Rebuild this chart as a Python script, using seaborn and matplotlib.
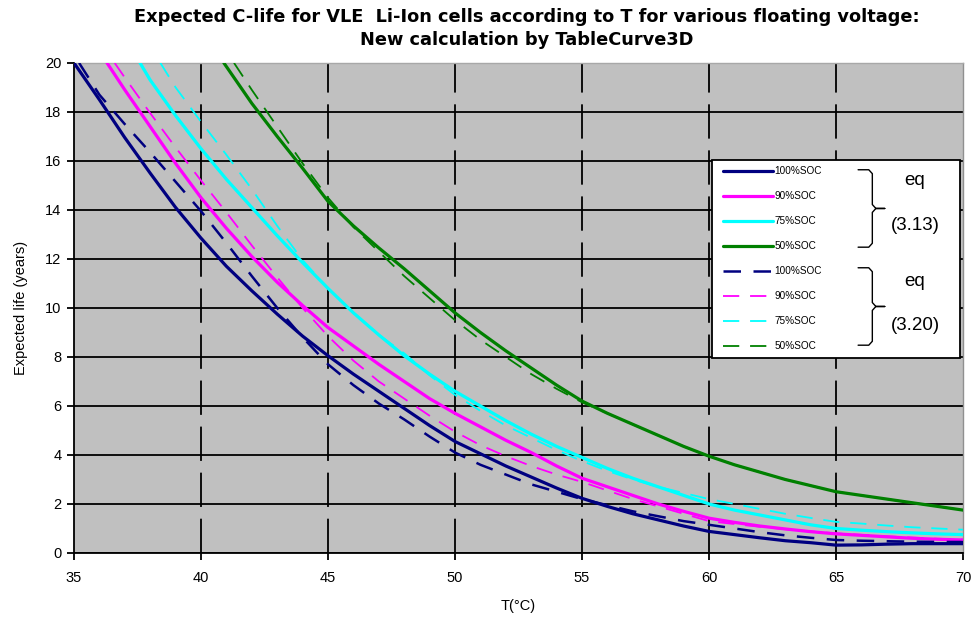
import numpy as np
import pandas as pd
import matplotlib
matplotlib.use("Agg")
import matplotlib.pyplot as plt
import seaborn as sns
from matplotlib.lines import Line2D
from matplotlib.patches import Rectangle

# ---- data (T in degC, expected life in years) ----
# eq (3.13), solid lines
t_a100 = [35, 36, 37, 38, 39, 40, 41, 42, 43, 44, 45, 46, 47, 48, 49, 50, 51, 52, 53, 54, 55,
          56, 57, 58, 59, 60, 61, 62, 63, 64, 65, 66, 67, 68, 69, 70]
y_a100 = [20.0, 18.5, 16.95, 15.5, 14.1, 12.85, 11.7, 10.7, 9.75, 8.85, 8.05, 7.3, 6.6, 5.9, 5.2, 4.55,
          4.05, 3.55, 3.1, 2.65, 2.23, 1.9, 1.6, 1.35, 1.1, 0.88, 0.75, 0.62, 0.5, 0.42, 0.32, 0.33, 0.36,
          0.38, 0.38, 0.38]
t_a90 = [36.3, 37, 38, 39, 40, 41, 42, 43, 44, 45, 46, 47, 48, 49, 50, 51, 52, 53, 54, 55,
         56, 57, 58, 59, 60, 61, 62, 63, 64, 65, 66, 67, 68, 69, 70]
y_a90 = [20.0, 18.9, 17.4, 15.9, 14.5, 13.25, 12.1, 11.05, 10.1, 9.2, 8.45, 7.7, 7.0, 6.3, 5.7, 5.15,
         4.6, 4.1, 3.55, 3.05, 2.7, 2.35, 2.0, 1.7, 1.42, 1.25, 1.1, 0.98, 0.87, 0.78, 0.72, 0.66, 0.6,
         0.56, 0.53]
t_a75 = [37.6, 38, 39, 40, 41, 42, 43, 44, 45, 46, 47, 48, 49, 50, 51, 52, 53, 54, 55,
         56, 57, 58, 59, 60, 61, 62, 63, 64, 65, 66, 67, 68, 69, 70]
y_a75 = [20.0, 19.3, 17.85, 16.5, 15.25, 14.1, 12.95, 11.85, 10.8, 9.8, 8.9, 8.05, 7.3, 6.6, 6.0, 5.4,
         4.85, 4.35, 3.9, 3.45, 3.05, 2.7, 2.35, 2.0, 1.75, 1.55, 1.35, 1.15, 1.0, 0.93, 0.87, 0.82,
         0.78, 0.75]
t_a50 = [40.9, 42, 43, 44, 45, 46, 47, 48, 49, 50, 51, 52, 53, 54, 55,
         56, 57, 58, 59, 60, 61, 62, 63, 64, 65, 66, 67, 68, 69, 70]
y_a50 = [20.0, 18.35, 17.0, 15.7, 14.35, 13.35, 12.45, 11.6, 10.7, 9.8, 9.0, 8.25, 7.55, 6.85, 6.2,
         5.7, 5.25, 4.8, 4.35, 3.95, 3.6, 3.3, 3.0, 2.75, 2.5, 2.35, 2.2, 2.05, 1.9, 1.75]

# eq (3.20), dashed lines
t_b100 = [35.2, 36, 37, 38, 39, 40, 41, 42, 43, 44, 45, 46, 47, 48, 49, 50, 51, 52, 53, 54, 55,
          56, 57, 58, 59, 60, 61, 62, 63, 64, 65, 66, 67, 68, 69, 70]
y_b100 = [20.0, 18.7, 17.5, 16.35, 15.15, 13.95, 12.65, 11.3, 10.0, 8.8, 7.7, 6.85, 6.1, 5.45, 4.75, 4.1,
          3.6, 3.2, 2.8, 2.5, 2.2, 1.95, 1.7, 1.5, 1.3, 1.15, 1.0, 0.85, 0.72, 0.62, 0.53, 0.5, 0.48,
          0.46, 0.45, 0.45]
t_b90 = [36.6, 37, 38, 39, 40, 41, 42, 43, 44, 45, 46, 47, 48, 49, 50, 51, 52, 53, 54, 55,
         56, 57, 58, 59, 60, 61, 62, 63, 64, 65, 66, 67, 68, 69, 70]
y_b90 = [20.0, 19.4, 17.95, 16.55, 15.2, 13.9, 12.55, 11.25, 10.0, 8.85, 7.85, 7.0, 6.3, 5.6, 4.95,
         4.4, 3.95, 3.55, 3.2, 2.9, 2.55, 2.2, 1.9, 1.6, 1.3, 1.18, 1.07, 0.97, 0.88, 0.8, 0.74, 0.68,
         0.63, 0.58, 0.55]
t_b75 = [38.4, 39, 40, 41, 42, 43, 44, 45, 46, 47, 48, 49, 50, 51, 52, 53, 54, 55,
         56, 57, 58, 59, 60, 61, 62, 63, 64, 65, 66, 67, 68, 69, 70]
y_b75 = [20.0, 19.0, 17.6, 16.25, 14.85, 13.35, 11.95, 10.8, 9.8, 8.9, 8.15, 7.25, 6.45, 5.8, 5.2, 4.7,
         4.2, 3.75, 3.35, 3.0, 2.7, 2.45, 2.2, 2.0, 1.8, 1.6, 1.43, 1.27, 1.2, 1.12, 1.05, 1.0, 0.95]
t_b50 = [41.3, 42, 43, 44, 45, 46, 47, 48, 49, 50, 51, 52, 53, 54, 55,
         56, 57, 58, 59, 60, 61, 62, 63, 64, 65, 66, 67, 68, 69, 70]
y_b50 = [20.0, 18.9, 17.4, 15.9, 14.5, 13.3, 12.3, 11.3, 10.4, 9.5, 8.7, 8.0, 7.3, 6.7, 6.15,
         5.7, 5.25, 4.8, 4.35, 3.95, 3.6, 3.3, 3.0, 2.75, 2.5, 2.35, 2.2, 2.05, 1.9, 1.75]

soc_labels = ['100%SOC', '90%SOC', '75%SOC', '50%SOC']
soc_colors = ['#000080', '#FF00FF', '#00FFFF', '#008000']

series = [
    ('3.13', '100%SOC', t_a100, y_a100), ('3.13', '90%SOC', t_a90, y_a90),
    ('3.13', '75%SOC', t_a75, y_a75), ('3.13', '50%SOC', t_a50, y_a50),
    ('3.20', '100%SOC', t_b100, y_b100), ('3.20', '90%SOC', t_b90, y_b90),
    ('3.20', '75%SOC', t_b75, y_b75), ('3.20', '50%SOC', t_b50, y_b50),
]
rows = []
for eq, soc, ts, ys in series:
    for t, y in zip(ts, ys):
        rows.append({'eq': eq, 'SOC': soc, 'T': t, 'life': y})
df = pd.DataFrame(rows)

sns.set_style("ticks")
plt.rcParams['font.family'] = ['Liberation Sans', 'DejaVu Sans']
plt.rcParams['text.color'] = 'black'
plt.rcParams['axes.labelcolor'] = 'black'
plt.rcParams['xtick.color'] = 'black'
plt.rcParams['ytick.color'] = 'black'

fig = plt.figure(figsize=(9.75, 6.23), dpi=100)
ax = fig.add_axes([0.0759, 0.1124, 0.9118, 0.7866])
ax.set_facecolor('#C0C0C0')

color_map = dict(zip(soc_labels, soc_colors))
dash_b = {'100%SOC': (0, (7, 5)), '90%SOC': (0, (9, 6)), '75%SOC': (0, (9, 6)), '50%SOC': (0, (9, 6))}
lw_b = {'100%SOC': 1.8, '90%SOC': 1.3, '75%SOC': 1.3, '50%SOC': 1.3}

for eq, soc, ts, ys in series:
    sub = df[(df['eq'] == eq) & (df['SOC'] == soc)]
    if eq == '3.13':
        sns.lineplot(data=sub, x='T', y='life', ax=ax, color=color_map[soc], linewidth=2.3,
                     sort=False, errorbar=None, zorder=3)
    else:
        sns.lineplot(data=sub, x='T', y='life', ax=ax, color=color_map[soc], linewidth=lw_b[soc],
                     linestyle=dash_b[soc], sort=False, errorbar=None, zorder=4)

ax.set_xlim(35, 70)
ax.set_ylim(0, 20)
ax.set_xticks(range(35, 71, 5))
ax.set_yticks(range(0, 21, 2))
ax.yaxis.grid(True, color='black', linewidth=1.3, linestyle='-')
ax.xaxis.grid(True, color='black', linewidth=1.3, linestyle=(0, (19, 6.5)))
ax.get_ygridlines()[-1].set_visible(False)
ax.get_xgridlines()[0].set_visible(False)
ax.get_xgridlines()[-1].set_visible(False)
ax.set_axisbelow(True)

for side in ['left', 'bottom']:
    ax.spines[side].set_color('black')
    ax.spines[side].set_linewidth(1.3)
ax.spines['top'].set_color('#A8A8A8')
ax.spines['right'].set_color('#909090')
ax.spines['top'].set_linewidth(1.0)
ax.spines['right'].set_linewidth(1.0)
ax.tick_params(axis='both', direction='out', length=5, width=1.3, color='black',
               labelsize=10.5, pad=4, labelcolor='black')
ax.tick_params(axis='x', pad=8)

ax.set_xlabel('T(°C)', fontsize=10.5, labelpad=10)
ax.set_ylabel('Expected life (years)', fontsize=10.5, labelpad=12)

fig.text(0.54, 0.9727, 'Expected C-life for VLE  Li-Ion cells according to T for various floating voltage:',
         ha='center', va='center', fontsize=12.8, fontweight='bold', family='DejaVu Sans', color='black')
fig.text(0.54, 0.9358, 'New calculation by TableCurve3D',
         ha='center', va='center', fontsize=12.8, fontweight='bold', family='DejaVu Sans', color='black')

# legend box with braces
ax.add_patch(Rectangle((0.718, 0.398), 0.279, 0.404, transform=ax.transAxes,
                       facecolor='white', edgecolor='black', linewidth=1.3, zorder=10, clip_on=False))
handles = []
for soc, col in zip(soc_labels, soc_colors):
    handles.append(Line2D([], [], color=col, linewidth=2.3))
for soc, col in zip(soc_labels, soc_colors):
    handles.append(Line2D([], [], color=col, linewidth=lw_b[soc], linestyle=dash_b[soc]))
leg = ax.legend(handles, soc_labels + soc_labels, loc='upper left', bbox_to_anchor=(0.725, 0.797),
                frameon=False, fontsize=7.2, handlelength=5.0, handletextpad=0.2, labelspacing=1.5,
                borderaxespad=0)
leg.set_zorder(11)


def draw_brace(ax, x0, x1, x2, ytop, ybot):
    ym = (ytop + ybot) / 2
    d = 0.008
    xs = [x0, x1 - 0.004, x1, x1, x1 + 0.004, x2, x1 + 0.004, x1, x1, x1 - 0.004, x0]
    ys = [ytop, ytop, ytop - d, ym + d, ym, ym, ym, ym - d, ybot + d, ybot, ybot]
    ax.plot(xs, ys, transform=ax.transAxes, color='black', linewidth=1.0, zorder=12, clip_on=False)


draw_brace(ax, 0.882, 0.898, 0.912, 0.782, 0.624)
draw_brace(ax, 0.882, 0.898, 0.912, 0.582, 0.424)
ax.text(0.946, 0.761, 'eq', transform=ax.transAxes, ha='center', va='center', fontsize=13.5, zorder=12)
ax.text(0.946, 0.669, '(3.13)', transform=ax.transAxes, ha='center', va='center', fontsize=13.5, zorder=12)
ax.text(0.946, 0.553, 'eq', transform=ax.transAxes, ha='center', va='center', fontsize=13.5, zorder=12)
ax.text(0.946, 0.465, '(3.20)', transform=ax.transAxes, ha='center', va='center', fontsize=13.5, zorder=12)

fig.savefig('out.png', dpi=100, facecolor='white')
